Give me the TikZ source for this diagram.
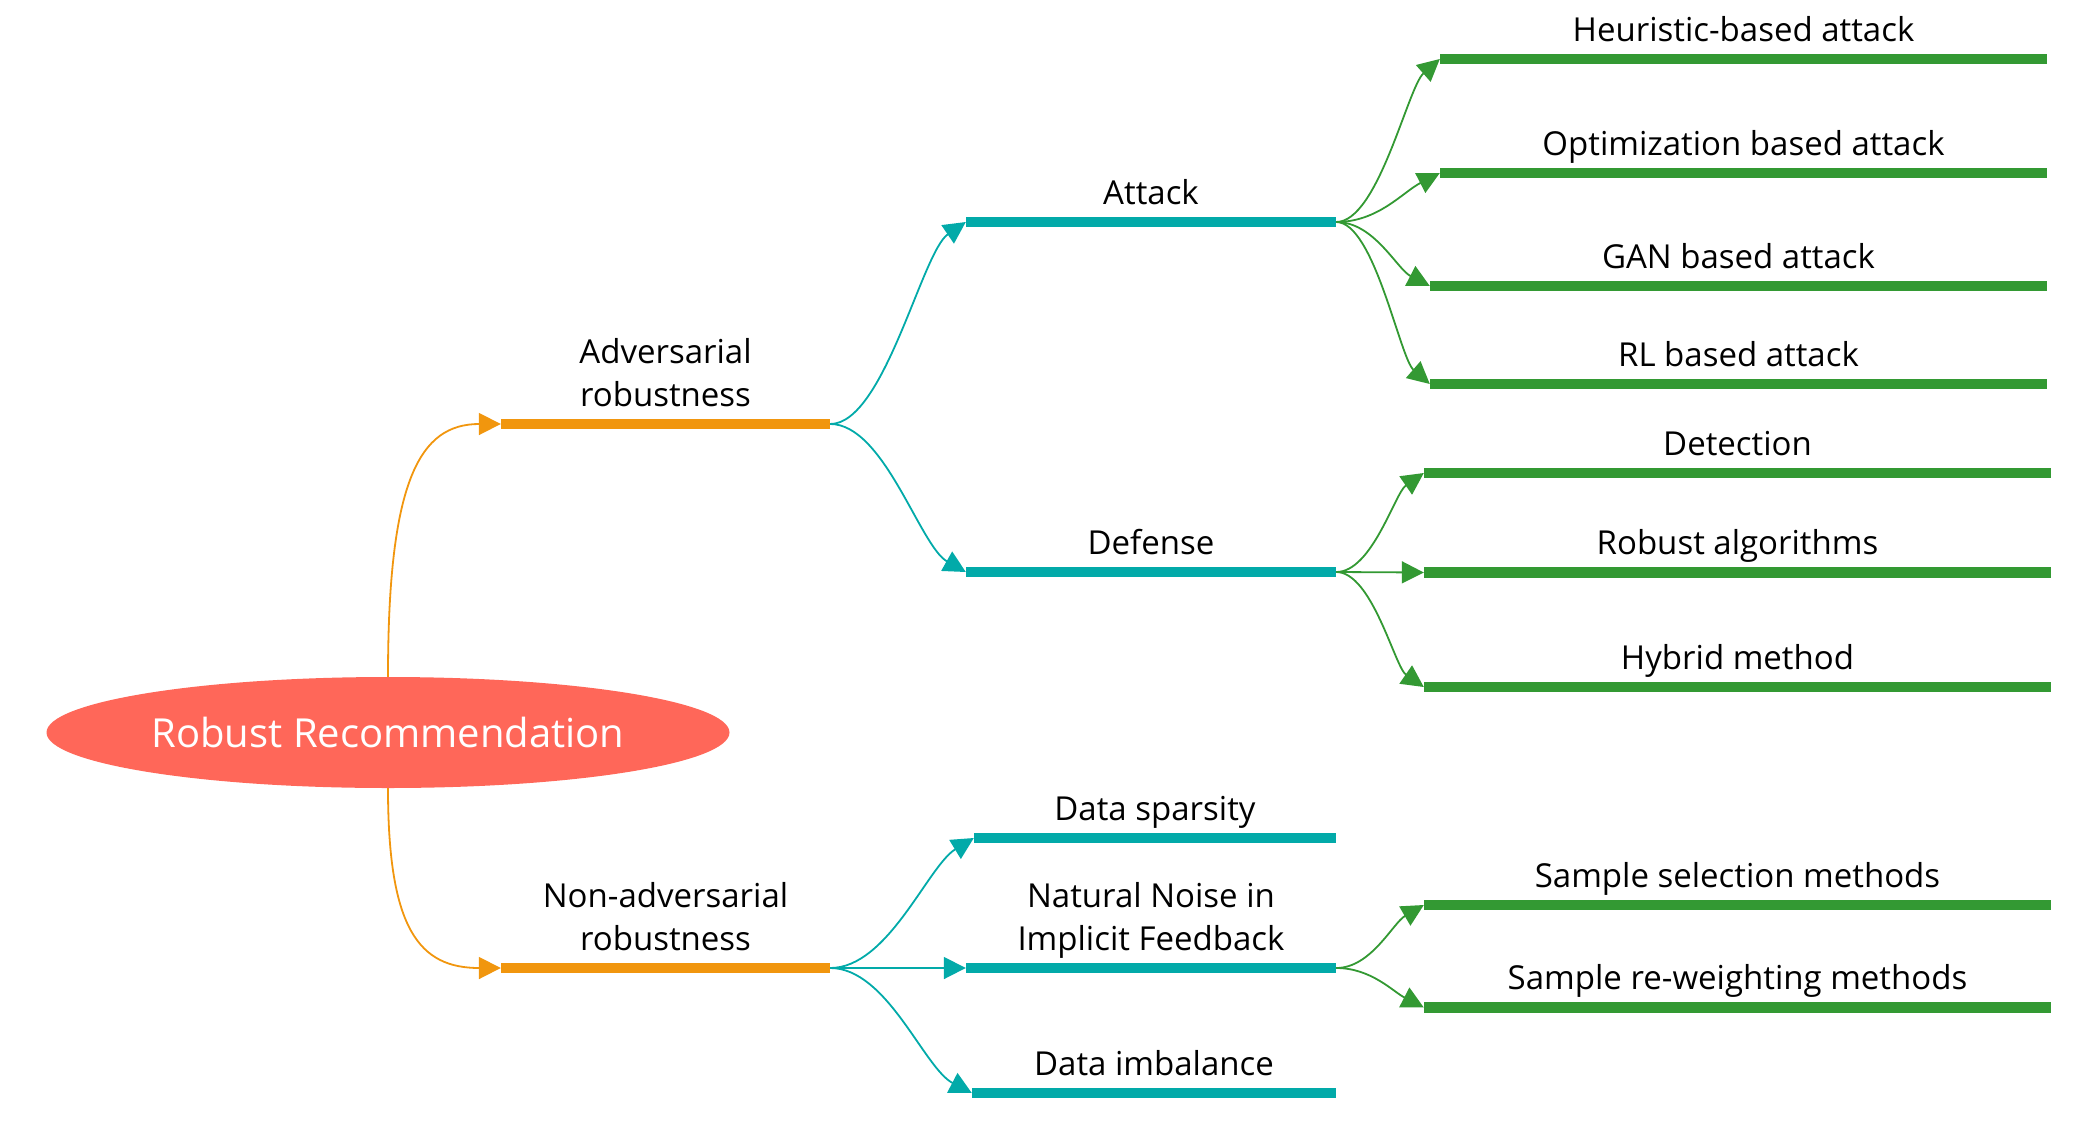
\documentclass[tikz,border=0pt]{standalone}
\usepackage{fontspec}
\setmainfont{Open Sans}
\usetikzlibrary{shapes.geometric,arrows.meta}
\definecolor{orangeC}{HTML}{F1960E}
\definecolor{tealC}{HTML}{02AAA9}
\definecolor{greenC}{HTML}{339933}
\definecolor{rootC}{HTML}{FF6759}
\begin{document}
\begin{tikzpicture}[x=1pt,y=-1pt,
  bar/.style={rectangle, inner sep=0pt, minimum height=10.5pt, draw=none},
  obar/.style={bar, fill=orangeC},
  tbar/.style={bar, fill=tealC},
  gbar/.style={bar, fill=greenC},
  lbl/.style={anchor=base, inner sep=0pt, font=\fontsize{33}{43}\selectfont, text=black},
  conn/.style={line width=1.8pt, -{Triangle[length=22pt,width=22pt]}},
  oconn/.style={conn, draw=orangeC},
  tconn/.style={conn, draw=tealC},
  gconn/.style={conn, draw=greenC}
]
\useasboundingbox (0,0) rectangle (2097,1138);

% root
\node[ellipse, fill=rootC, draw=none, minimum width=683pt, minimum height=111pt, inner sep=0pt,
      text=white, font=\fontsize{40}{48}\selectfont] (root) at (388,732.5) {Robust Recommendation};

% level 1
\node[obar, minimum width=329pt] (adv) at (665.5,424) {};
\node[obar, minimum width=329pt] (nonadv) at (665.5,968) {};

% level 2
\node[tbar, minimum width=370pt] (attack) at (1151,222) {};
\node[tbar, minimum width=370pt] (defense) at (1151,572) {};
\node[tbar, minimum width=362pt] (sparsity) at (1155,838) {};
\node[tbar, minimum width=370pt] (noise) at (1151,968) {};
\node[tbar, minimum width=364pt] (imbalance) at (1154,1093) {};

% level 3
\node[gbar, minimum width=607pt] (heur) at (1743.5,59) {};
\node[gbar, minimum width=607pt] (optim) at (1743.5,173) {};
\node[gbar, minimum width=617pt] (gan) at (1738.5,286) {};
\node[gbar, minimum width=617pt] (rl) at (1738.5,384) {};
\node[gbar, minimum width=627pt] (detect) at (1737.5,473) {};
\node[gbar, minimum width=627pt] (robalg) at (1737.5,572.5) {};
\node[gbar, minimum width=627pt] (hybrid) at (1737.5,687) {};
\node[gbar, minimum width=627pt] (samsel) at (1737.5,905) {};
\node[gbar, minimum width=627pt] (reweight) at (1737.5,1007.5) {};

% labels
\path (adv.center) ++(0,-18) node[lbl] (l-adv) {\begin{tabular}[b]{@{}c@{}}Adversarial\\robustness\end{tabular}};
\path (nonadv.center) ++(0,-18) node[lbl] (l-nonadv) {\begin{tabular}[b]{@{}c@{}}Non-adversarial\\robustness\end{tabular}};
\path (attack.center) ++(0,-18) node[lbl] (l-attack) {Attack};
\path (defense.center) ++(0,-18) node[lbl] (l-defense) {Defense};
\path (sparsity.center) ++(0,-18) node[lbl] (l-sparsity) {Data sparsity};
\path (noise.center) ++(0,-18) node[lbl] (l-noise) {\begin{tabular}[b]{@{}c@{}}Natural Noise in\\Implicit Feedback\end{tabular}};
\path (imbalance.center) ++(0,-18) node[lbl] (l-imbalance) {Data imbalance};
\path (heur.center) ++(0,-18) node[lbl] (l-heur) {Heuristic-based attack};
\path (optim.center) ++(0,-18) node[lbl] (l-optim) {Optimization based attack};
\path (gan.center) ++(0,-18) node[lbl] (l-gan) {GAN based attack};
\path (rl.center) ++(0,-18) node[lbl] (l-rl) {RL based attack};
\path (detect.center) ++(0,-18) node[lbl] (l-detect) {Detection};
\path (robalg.center) ++(0,-18) node[lbl] (l-robalg) {Robust algorithms};
\path (hybrid.center) ++(0,-18) node[lbl] (l-hybrid) {Hybrid method};
\path (samsel.center) ++(0,-18) node[lbl] (l-samsel) {Sample selection methods};
\path (reweight.center) ++(0,-18) node[lbl] (l-reweight) {Sample re-weighting methods};

% connectors root -> level 1
\draw[oconn] (root.north) .. controls +(0,-197) and +(-81,0) .. (adv.west);
\draw[oconn] (root.south) .. controls +(0,142) and +(-81,0) .. (nonadv.west);

% level 1 -> level 2
\draw[tconn] (adv.east) .. controls +(54,0) and +(-44,30) .. (attack.west);
\draw[tconn] (adv.east) .. controls +(54,0) and +(-46,-26) .. (defense.west);
\draw[tconn] (nonadv.east) .. controls +(58,0) and +(-46,28) .. (sparsity.west);
\draw[tconn] (nonadv.east) -- (noise.west);
\draw[tconn] (nonadv.east) .. controls +(57,0) and +(-48,-25) .. (imbalance.west);

% level 2 -> level 3
\draw[gconn] (attack.east) .. controls +(42,0) and +(-32,28) .. (heur.west);
\draw[gconn] (attack.east) .. controls +(42,0) and +(-37,19) .. (optim.west);
\draw[gconn] (attack.east) .. controls +(38,0) and +(-33,-17) .. (gan.west);
\draw[gconn] (attack.east) .. controls +(38,0) and +(-30,-26) .. (rl.west);
\draw[gconn] (defense.east) .. controls +(36,0) and +(-29,20) .. (detect.west);
\draw[gconn] (defense.east) -- (robalg.west);
\draw[gconn] (defense.east) .. controls +(36,0) and +(-29,-20) .. (hybrid.west);
\draw[gconn] (noise.east) .. controls +(35,0) and +(-31,18) .. (samsel.west);
\draw[gconn] (noise.east) .. controls +(35,0) and +(-31,-16) .. (reweight.west);
\end{tikzpicture}
\end{document}
